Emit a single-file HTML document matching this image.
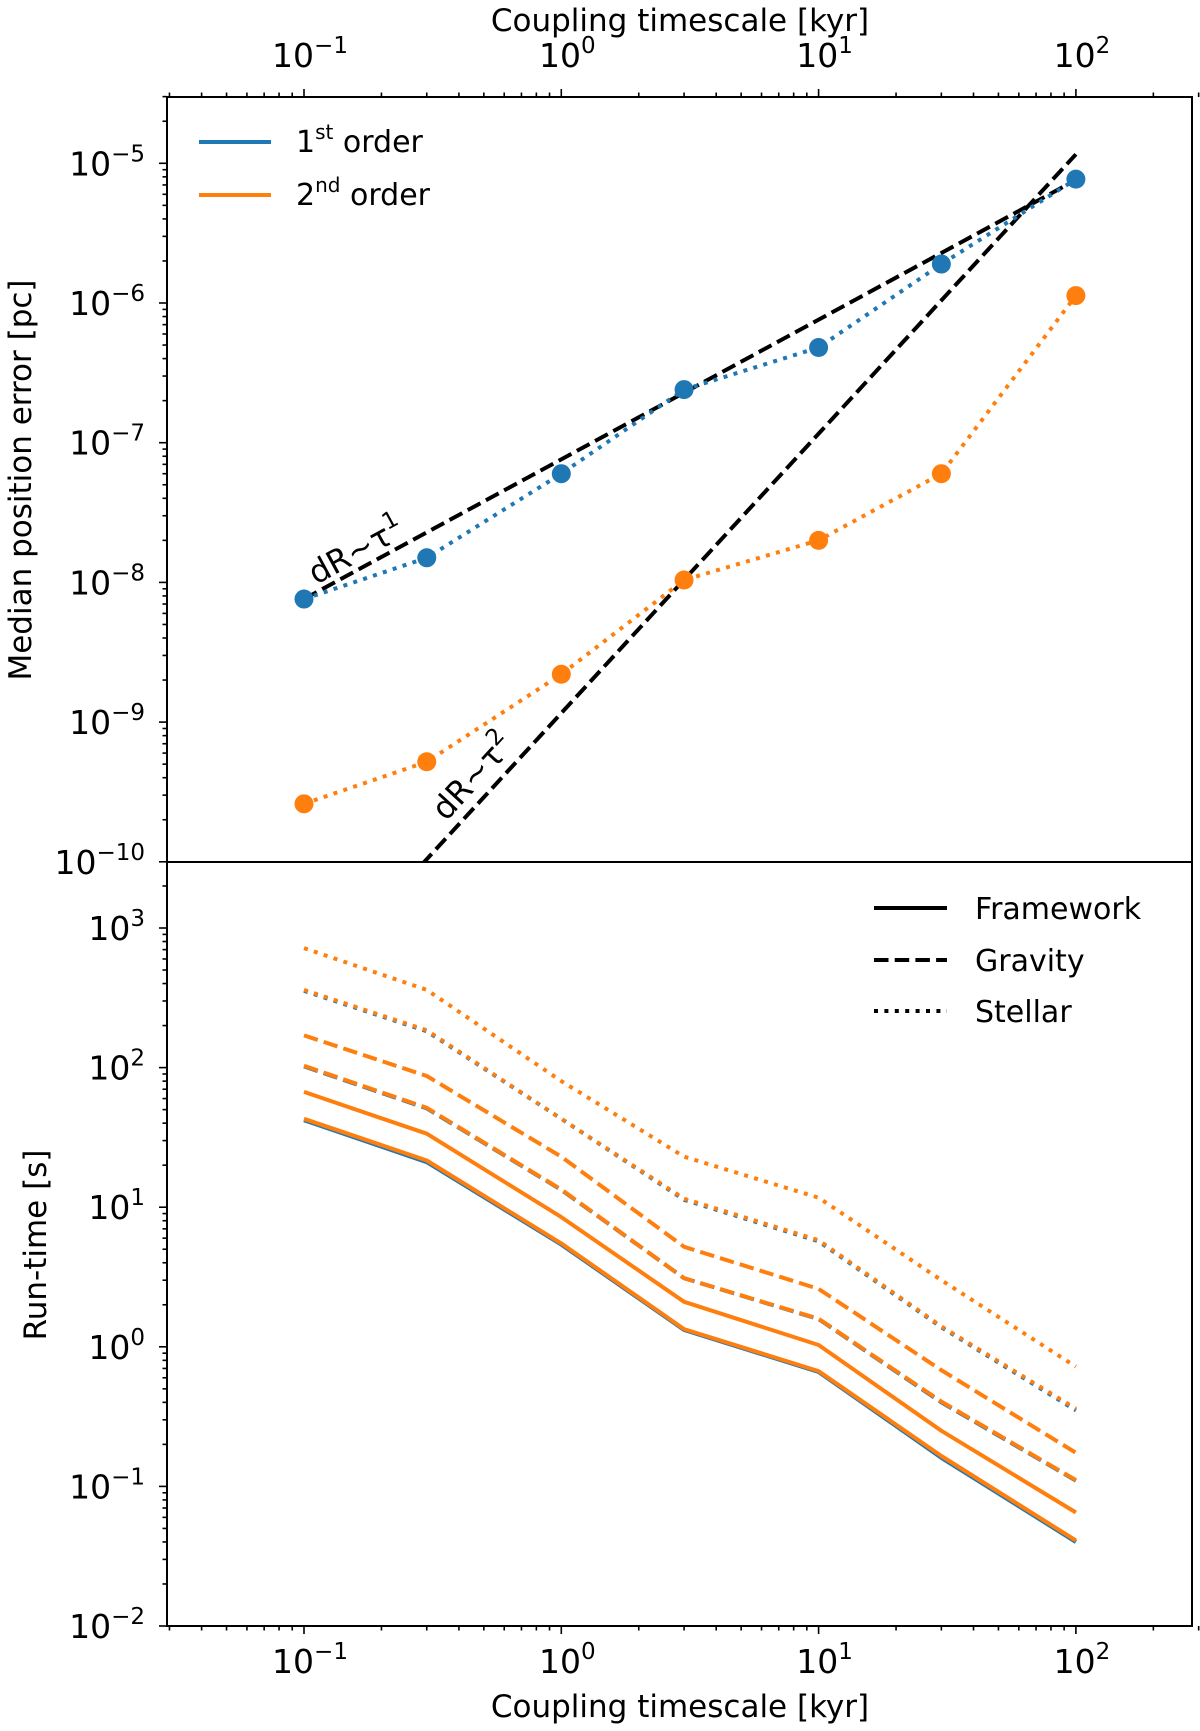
<!DOCTYPE html>
<html><head><meta charset="utf-8"><style>
html,body{margin:0;padding:0;background:#fff;}
svg{display:block;font-family:"DejaVu Sans","Liberation Sans",sans-serif;}
</style></head>
<body>
<svg id="chart" width="1200" height="1731" viewBox="0 0 1200 1731" xmlns="http://www.w3.org/2000/svg"></svg>
<script>
// ---- data ----
const tau = [0.1, 0.3, 1, 3, 10, 30, 100];
const err1st = [7.6e-9, 1.5e-8, 6.0e-8, 2.4e-7, 4.8e-7, 1.9e-6, 7.7e-6];
const err2nd = [2.6e-10, 5.2e-10, 2.2e-9, 1.04e-8, 2.0e-8, 6.0e-8, 1.13e-6];
const fit1Amp = 7.6e-6;   // dR ~ tau^1, value at tau=100
const fit2Amp = 1.16e-5;  // dR ~ tau^2, value at tau=100
const blueFramework = [42, 21, 5.4, 1.32, 0.66, 0.16, 0.040];
const blueGravity = [102, 51, 13.3, 3.1, 1.58, 0.40, 0.110];
const blueStellar = [355, 182, 43, 11.3, 5.7, 1.38, 0.35];
const orangeFrameworkA = [43, 21.6, 5.5, 1.34, 0.67, 0.165, 0.041];
const orangeGravityA = [103, 51.5, 13.4, 3.1, 1.59, 0.405, 0.111];
const orangeStellarA = [360, 185, 43, 11.5, 5.8, 1.4, 0.36];
const orangeFrameworkB = [67, 33.6, 8.5, 2.1, 1.03, 0.25, 0.065];
const orangeGravityB = [170, 87, 23, 5.2, 2.6, 0.68, 0.174];
const orangeStellarB = [718, 360, 80, 23, 11.7, 3.0, 0.72];
const xTickExp = [-1, 0, 1, 2];
const topYTickExp = [-10, -9, -8, -7, -6, -5];
const botYTickExp = [-2, -1, 0, 1, 2, 3];

// ---- layout ----
const L = 167, R = 1192, T1 = 97, B1 = 862, T2 = 862, B2 = 1626;
const xMin = Math.log10(0.03), xMax = Math.log10(300);
const xPerDec = 257.3, x0 = 304; // x(0.1)
function X(v){ return x0 + (Math.log10(v) + 1) * xPerDec; }
function Y1(v){ return 163.3 - (Math.log10(v) + 5) * 139.7; }
function Y2(v){ return 928 - (Math.log10(v) - 3) * 139.6; }

const svg = document.getElementById('chart');
const NS = 'http://www.w3.org/2000/svg';
function mk(tag, attrs, parent){
  const e = document.createElementNS(NS, tag);
  for (const k in attrs) e.setAttribute(k, attrs[k]);
  (parent || svg).appendChild(e);
  return e;
}
const BLUE = '#1f77b4', ORANGE = '#ff7f0e';
const LW = 4;
const DASH = '14.5,6.2', DOT = '4,6.4';

const defs = mk('defs', {});
const c1 = mk('clipPath', {id: 'clip1'}, defs);
mk('rect', {x: L, y: T1, width: R - L, height: B1 - T1}, c1);
const c2 = mk('clipPath', {id: 'clip2'}, defs);
mk('rect', {x: L, y: T2, width: R - L, height: B2 - T2}, c2);

const g1 = mk('g', {'clip-path': 'url(#clip1)'});


const g2 = mk('g', {'clip-path': 'url(#clip2)'});



function series(g, ys, Yf, color, dash, name){
  const pts = tau.map((t, i) => X(t).toFixed(1) + ',' + Yf(ys[i]).toFixed(1)).join(' ');
  const p = mk('polyline', {points: pts, fill: 'none', stroke: color, 'stroke-width': LW, 'stroke-dasharray': dash || 'none', 'stroke-linejoin': 'round'}, g);
  
  
}

const fitX = [0.1, 100];
const fitX2 = [0.03, 100];
const f1 = mk('polyline', {points: fitX.map(t => X(t) + ',' + Y1(fit1Amp * Math.pow(t / 100, 1))).join(' '), fill: 'none', stroke: '#000', 'stroke-width': LW, 'stroke-dasharray': DASH}, g1);


const f2 = mk('polyline', {points: fitX2.map(t => X(t) + ',' + Y1(fit2Amp * Math.pow(t / 100, 2))).join(' '), fill: 'none', stroke: '#000', 'stroke-width': LW, 'stroke-dasharray': DASH}, g1);



series(g1, err1st, Y1, BLUE, DOT, 'first-order-line');
series(g1, err2nd, Y1, ORANGE, DOT, 'second-order-line');
tau.forEach((t, i) => {
  const a = mk('circle', {cx: X(t), cy: Y1(err1st[i]), r: 9.5, fill: BLUE}, g1);
  
  
  const b = mk('circle', {cx: X(t), cy: Y1(err2nd[i]), r: 9.5, fill: ORANGE}, g1);
  
  
});

function fitLabel(x, y, ang, name, sup){
  const t = mk('text', {x: 0, y: 0, 'font-size': 32, fill: '#000', transform: `translate(${x},${y}) rotate(${ang})`});
  
  
  t.innerHTML = 'dR~τ<tspan dy="-14" font-size="23">' + sup + '</tspan>';
}
fitLabel(316, 585, -28.5, 'fit-label-tau1', '1');
fitLabel(446, 822, -47.4, 'fit-label-tau2', '2');

series(g2, blueStellar, Y2, BLUE, DOT, 'blue-stellar-line');
series(g2, blueGravity, Y2, BLUE, DASH, 'blue-gravity-line');
series(g2, blueFramework, Y2, BLUE, null, 'blue-framework-line');
series(g2, orangeStellarA, Y2, ORANGE, DOT, 'orange-stellar-line-a');
series(g2, orangeGravityA, Y2, ORANGE, DASH, 'orange-gravity-line-a');
series(g2, orangeFrameworkA, Y2, ORANGE, null, 'orange-framework-line-a');
series(g2, orangeStellarB, Y2, ORANGE, DOT, 'orange-stellar-line-b');
series(g2, orangeGravityB, Y2, ORANGE, DASH, 'orange-gravity-line-b');
series(g2, orangeFrameworkB, Y2, ORANGE, null, 'orange-framework-line-b');

const sp = mk('rect', {x: L, y: T1, width: R - L, height: B2 - T1, fill: 'none', stroke: '#000', 'stroke-width': 2});


const dv = mk('line', {x1: L, x2: R, y1: B1, y2: B1, stroke: '#000', 'stroke-width': 2});



function tick(x1, y1, x2, y2, name){
  const l = mk('line', {x1, y1, x2, y2, stroke: '#000', 'stroke-width': 1.6});
  
  
}
function powLabel(x, y, exp, anchor, name){
  const t = mk('text', {x, y, 'font-size': 33, 'text-anchor': anchor, fill: '#000'});
  
  
  const e = exp < 0 ? '−' + (-exp) : '' + exp;
  t.innerHTML = '10<tspan dy="-14" font-size="23">' + e + '</tspan>';
}

for (let d = -2; d <= 2; d++) {
  for (let m = 1; m <= 9; m++) {
    const v = m * Math.pow(10, d);
    const lv = Math.log10(v);
    if (lv < xMin - 1e-9 || lv > xMax + 1e-9) continue;
    const len = m === 1 ? 8 : 4.5;
    tick(X(v), T1, X(v), T1 - len, m === 1 ? 'top-x-major-tick' : 'top-x-minor-tick');
    tick(X(v), B2, X(v), B2 + len, m === 1 ? 'bottom-x-major-tick' : 'bottom-x-minor-tick');
  }
}
xTickExp.forEach(e => {
  powLabel(X(Math.pow(10, e)) + 6, 67, e, 'middle', 'top-x-tick-label');
  powLabel(X(Math.pow(10, e)) + 6, 1673, e, 'middle', 'bottom-x-tick-label');
});

for (let d = -11; d <= -4; d++) for (let m = 1; m <= 9; m++) {
  const v = m * Math.pow(10, d), y = Y1(v);
  if (y < T1 - 0.5 || y > B1 + 0.5) continue;
  tick(L, y, L - (m === 1 ? 8 : 4.5), y, m === 1 ? 'top-y-major-tick' : 'top-y-minor-tick');
}
for (let d = -3; d <= 3; d++) for (let m = 1; m <= 9; m++) {
  const v = m * Math.pow(10, d), y = Y2(v);
  if (y < T2 - 0.5 || y > B2 + 0.5) continue;
  tick(L, y, L - (m === 1 ? 8 : 4.5), y, m === 1 ? 'bottom-y-major-tick' : 'bottom-y-minor-tick');
}
topYTickExp.forEach(e => powLabel(145, Y1(Math.pow(10, e)) + 12, e, 'end', 'top-y-tick-label'));
botYTickExp.forEach(e => powLabel(145, Y2(Math.pow(10, e)) + 12, e, 'end', 'bottom-y-tick-label'));
</script>
<script>
(function(){
const svg = document.getElementById('chart');
const NS = 'http://www.w3.org/2000/svg';
function txt(x, y, s, size, name, extra){
  const t = document.createElementNS(NS, 'text');
  t.setAttribute('x', x); t.setAttribute('y', y);
  t.setAttribute('font-size', size); t.setAttribute('fill', '#000');
  if (extra) for (const k in extra) t.setAttribute(k, extra[k]);
  t.innerHTML = s;
  
  
  svg.appendChild(t);
}
function ln(x1, y1, x2, y2, color, dash, name){
  const l = document.createElementNS(NS, 'line');
  l.setAttribute('x1', x1); l.setAttribute('y1', y1); l.setAttribute('x2', x2); l.setAttribute('y2', y2);
  l.setAttribute('stroke', color); l.setAttribute('stroke-width', 4);
  if (dash) l.setAttribute('stroke-dasharray', dash);
  
  
  svg.appendChild(l);
}
txt(680, 31, 'Coupling timescale [kyr]', 31, 'top-x-axis-title', {'text-anchor': 'middle'});
txt(680, 1717, 'Coupling timescale [kyr]', 31, 'bottom-x-axis-title', {'text-anchor': 'middle'});
txt(0, 0, 'Median position error [pc]', 31, 'top-y-axis-title', {'text-anchor': 'middle', transform: 'translate(31,480) rotate(-90)'});
txt(0, 0, 'Run-time [s]', 31, 'bottom-y-axis-title', {'text-anchor': 'middle', transform: 'translate(46,1245) rotate(-90)'});
ln(199, 142, 271, 142, '#1f77b4', null, 'legend-first-order-line');
ln(199, 195, 271, 195, '#ff7f0e', null, 'legend-second-order-line');
txt(296, 152, '1<tspan dy="-13" font-size="20">st</tspan><tspan dy="13"> order</tspan>', 30, 'legend-first-order-label');
txt(296, 205, '2<tspan dy="-13" font-size="20">nd</tspan><tspan dy="13"> order</tspan>', 30, 'legend-second-order-label');
ln(874, 908, 947, 908, '#000', null, 'legend-framework-line');
ln(874, 960, 947, 960, '#000', '14.5,6.2', 'legend-gravity-line');
ln(874, 1011, 947, 1011, '#000', '4,6.4', 'legend-stellar-line');
txt(975, 919, 'Framework', 30, 'legend-framework-label');
txt(975, 971, 'Gravity', 30, 'legend-gravity-label');
txt(975, 1022, 'Stellar', 30, 'legend-stellar-label');
})();
</script>
</body></html>
